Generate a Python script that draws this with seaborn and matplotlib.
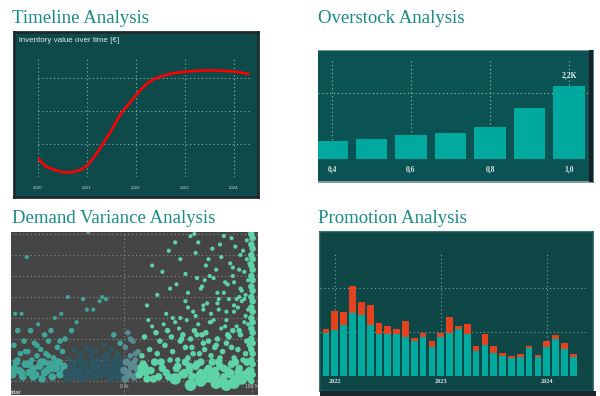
import numpy as np
import pandas as pd
import seaborn as sns
import matplotlib.pyplot as plt
from matplotlib.patches import Rectangle

# --- Timeline: inventory value over time (in units of the grid step)
tl_year = [2020.0, 2020.125, 2020.25, 2020.375, 2020.5, 2020.625, 2020.75, 2020.875,
           2021.0, 2021.125, 2021.25, 2021.375, 2021.5, 2021.625, 2021.75, 2021.875,
           2022.0, 2022.125, 2022.25, 2022.375, 2022.5, 2022.625, 2022.75, 2022.875,
           2023.0, 2023.25, 2023.5, 2023.75, 2024.0, 2024.125, 2024.25, 2024.3]
tl_value = [0.57, 0.36, 0.26, 0.20, 0.15, 0.14, 0.16, 0.22,
            0.34, 0.57, 0.82, 1.12, 1.42, 1.75, 2.03, 2.25,
            2.48, 2.69, 2.86, 2.97, 3.04, 3.10, 3.14, 3.17,
            3.19, 3.22, 3.23, 3.22, 3.20, 3.17, 3.14, 3.12]
tl_ticks = [2020, 2021, 2022, 2023, 2024]

# --- Overstock
os_ratio = [0.4, 0.5, 0.6, 0.7, 0.8, 0.9, 1.0]
os_value = [540, 600, 720, 780, 960, 1540, 2200]
os_ticks = [0.4, 0.6, 0.8, 1.0]
os_labels = ['0,4', '0,6', '0,8', '1,0']

# --- Promotion (monthly, Dec 2021 .. Apr 2024)
pr_month = pd.date_range('2021-12-01', periods=29, freq='MS').strftime('%Y-%m')
pr_base = [98, 105, 116, 143, 139, 116, 95, 95, 95, 89, 80, 89, 66, 89, 98,
           107, 95, 57, 70, 52, 45, 41, 43, 64, 43, 66, 84, 61, 43]
pr_promo = [9, 43, 30, 61, 30, 45, 25, 18, 11, 36, 7, 9, 14, 9, 36,
            7, 23, 11, 25, 16, 7, 5, 7, 5, 5, 14, 9, 14, 7]

# --- Demand variance scatter (x in %, y in grid steps)
dv_x = [-87, -86, -85, -84, -83, -82, -81, -80, -79, -78, -77, -76, -75, -74, -73, -72, -71,
        -70, -69, -68, -67, -66, -65, -64, -63, -62, -61, -60, -59, -58, -57, -56, -55, -54,
        -53, -52, -51, -50, -49, -48, -47, -46,
        -86, -83, -80, -77, -74, -71, -68, -65, -62, -59, -56, -53, -50, -47,
        -45, -44, -43, -42, -41, -40, -39, -38, -37, -36, -35, -34, -33, -32, -31, -30, -29,
        -28, -27, -26, -25, -24, -23, -22, -21, -20, -19, -18, -17, -16, -15, -14, -13, -12,
        -11, -10, -9, -8, -7, -6, -5, -4, -3, -2, -1,
        -40, -36, -32, -28, -24, -20, -16, -12, -8, -4,
        -44, -38, -34, -30, -26, -22, -18, -14, -10, -6, -2,
        0, 1, 2, 3, 4, 5, 6, 7, 8, 9, 10, 11, 1, 3, 5, 7, 9, 11,
        12, 15, 18, 21, 24, 27, 30, 33, 36, 39, 42, 45, 48, 51, 54, 57, 60, 63, 66, 69, 72,
        75, 78, 81, 84, 87, 90, 93, 96,
        14, 17, 20, 23, 26, 29, 32, 35, 38, 41, 44, 47, 50, 53, 56, 59, 62, 65, 68, 71, 74,
        77, 80, 83, 86, 89, 92, 95, 98,
        16, 22, 28, 34, 40, 46, 52, 58, 64, 70, 76, 82, 88, 94,
        19, 25, 31, 37, 43, 49, 55, 61, 67, 73, 79, 85, 91, 97,
        18, 26, 33, 41, 48, 54, 60, 65, 70, 74, 78, 82, 86, 89, 92, 95, 97, 38, 57, 68, 80, 90,
        22, 35, 48, 58, 66, 72, 78, 83, 87, 91, 94, 96, 55, 85,
        42, 45, 48, 51, 54, 57, 60, 63, 66, 69, 72, 75, 78, 81, 84, 87, 90, 93, 96, 98,
        44, 50, 56, 62, 68, 74, 80, 86, 92, 97,
        47, 53, 59, 65, 71, 77, 83, 89, 95,
        61, 67, 73, 79, 85, 91, 96,
        30, 36, 44, 50, 56, 62, 64, 69, 73, 76, 81, 84, 88, 90, 93, 95, 98,
        40, 52, 63, 75, 86, 94]
dv_y = [0.3, 1.7, 3.2, 0.9, 2.4, 0.5, 1.3, 3.2, 0.2, 1.9, 0.8, 5.9, 1.4, 0.4, 2.4, 1.0, 0.6,
        1.8, 0.3, 1.2, 2.7, 0.7, 1.5, 0.1, 0.9, 2.2, 1.3, 0.5, 1.9, 0.8, 2.4, 0.2, 1.1, 3.0,
        0.6, 1.6, 0.9, 0.3, 3.2, 1.4, 0.7, 2.0,
        0.6, 1.0, 0.4, 1.4, 0.8, 0.2, 1.7, 0.9, 0.4, 1.2, 0.6, 0.9, 1.9, 0.5,
        0.4, 4.0, 1.1, 0.2, 2.4, 0.8, 1.5, 0.3, 2.8, 1.0, 0.5, 1.3, 0.1, 3.9, 0.7, 1.6, 3.4,
        7.1, 0.4, 1.2, 0.9, 3.4, 0.2, 1.4, 0.6, 1.0, 3.8, 0.3, 4.0, 1.7, 0.8, 3.9, 0.4, 1.1,
        0.6, 1.5, 0.2, 2.2, 0.9, 0.5, 1.3, 0.3, 1.8, 0.7, 1.0,
        0.6, 0.2, 0.9, 0.4, 0.7, 0.3, 1.1, 0.5, 0.8, 0.2,
        0.1, 0.5, 0.9, 0.2, 1.5, 0.8, 0.4, 1.3, 0.1, 1.1, 0.4,
        0.5, 1.6, 0.9, 2.3, 0.3, 1.2, 0.7, 1.9, 0.2, 1.0, 0.6, 1.4, 0.1, 0.4, 2.0, 0.8, 1.3, 0.3,
        0.3, 0.8, 0.1, 0.5, 0.9, 0.2, 0.6, 0.4, 1.0, 0.1, 0.7, 0.3, 0.9, 0.5, 0.2, 0.8, 0.4,
        0.1, 0.6, 0.9, 0.3, 0.7, 0.2, 0.5, 0.8, 0.1, 0.6, 0.3, 0.9,
        1.2, 0.4, 1.5, 0.1, 1.3, 0.9, 1.7, 0.2, 1.4, 0.6, 1.9, 0.3, 1.1, 1.6, 0.7, 1.3, 1.8,
        0.5, 1.2, 1.6, 0.9, 1.4, 1.8, 0.4, 1.1, 1.5, 0.2, 1.3, 1.7,
        2.1, 2.6, 1.9, 2.4, 2.8, 2.2, 2.0, 2.7, 2.3, 2.9, 2.5, 2.1, 2.6, 2.8,
        2.9, 2.3, 2.7, 2.1, 2.5, 2.9, 2.4, 2.2, 2.8, 2.0, 2.6, 2.4, 2.2, 2.7,
        3.6, 4.1, 3.2, 4.6, 3.8, 3.3, 4.4, 3.7, 4.9, 3.4, 4.2, 3.9, 4.7, 3.5, 4.3, 3.1, 4.8,
        3.0, 4.9, 3.2, 3.3, 4.0,
        5.5, 6.2, 5.1, 6.6, 5.8, 5.3, 6.9, 5.6, 6.4, 6.0, 5.2, 6.7, 7.0, 5.0,
        1.0, 2.0, 1.6, 0.7, 1.3, 2.2, 0.9, 1.5, 1.9, 0.4, 1.7, 1.1, 0.6, 2.2, 1.6, 0.9, 2.4,
        1.0, 1.9, 0.5,
        3.0, 3.5, 3.1, 3.6, 2.8, 3.9, 2.9, 3.3, 3.8, 3.4,
        0.4, 0.2, 0.3, 0.2, 0.5, 0.1, 0.3, 0.4, 0.2,
        4.5, 5.0, 4.2, 4.7, 5.4, 4.4, 5.8,
        5.2, 4.4, 5.8, 4.2, 6.1, 3.4, 5.5, 6.3, 3.7, 5.9, 4.6, 6.8, 3.9, 5.3, 6.2, 4.1, 5.6,
        6.6, 6.9, 4.8, 6.5, 3.6, 3.9]
# dense strip at 100 %
dv_col_x = [99.5, 100.5, 99.5, 100.5, 99.5, 100.5, 99.5, 100.5, 99.5, 100.5, 99.5, 100.5,
            99.5, 100.5, 99.5, 100.5, 99.5, 100.5, 99.5, 100.5, 99.5, 100.5, 99.5, 100.5,
            99.5, 100.5, 99.5, 100.5, 99.5]
dv_col_y = [0.0, 0.3, 0.5, 0.8, 1.0, 1.3, 1.5, 1.8, 2.0, 2.3, 2.5, 2.8, 3.0, 3.3, 3.5, 3.8,
            4.0, 4.3, 4.5, 4.8, 5.0, 5.3, 5.5, 5.8, 6.0, 6.3, 6.5, 6.8, 7.0]
# large blobs near the bottom
dv_big_x = [86, 97, 80, 60, 40, 92, 72, 15, 52, 66]
dv_big_y = [-0.1, 0.3, -0.2, 0.0, 0.1, 0.1, -0.1, 0.6, -0.2, 0.2]

W, H = 600, 396
teal = '#00a99d'
title_c = '#1a8a84'

sns.set_theme(style='white')
plt.rcParams['font.family'] = ['Liberation Sans', 'DejaVu Sans']


def box(x0, y0, x1, y1):
    return [x0 / W, 1 - y1 / H, (x1 - x0) / W, (y1 - y0) / H]


def frame(fig, x0, y0, x1, y1, face, edge, lw=1.5):
    a = fig.add_axes(box(x0, y0, x1, y1), facecolor=face)
    a.set_xticks([])
    a.set_yticks([])
    for s in a.spines.values():
        s.set_color(edge)
        s.set_linewidth(lw)
    return a


def strip(fig, x0, y0, x1, y1, color):
    fig.add_artist(Rectangle((x0 / W, 1 - y1 / H), (x1 - x0) / W, (y1 - y0) / H,
                             transform=fig.transFigure, facecolor=color, edgecolor='none'))


def dotted_grid(ax, color, axis='both'):
    ax.grid(True, axis=axis, color=color, linestyle=(0, (1, 2.5)), linewidth=0.8)
    ax.set_axisbelow(True)
    sns.despine(ax=ax, left=True, bottom=True)


fig = plt.figure(figsize=(6, 3.96), dpi=100)

for x, y, t in [(12, 23, 'Timeline Analysis'), (318, 23, 'Overstock Analysis'),
                (12, 223, 'Demand Variance Analysis'), (318, 223, 'Promotion Analysis')]:
    fig.text(x / W, 1 - y / H, t, color=title_c, fontsize=13.5, va='baseline',
             family='Liberation Serif')

# ---------- Timeline
frame(fig, 14, 32, 258, 197, '#0f4a4b', '#1e2a2c', 2)
fig.text(19 / W, 1 - 41 / H, 'inventory value over time [€]', color='#e4ecec',
         fontsize=5.8, va='center')
ax1 = fig.add_axes(box(38, 58, 250, 177), facecolor='none')
sns.lineplot(x=tl_year, y=tl_value, ax=ax1, color='#ff0000', linewidth=1.9)
ax1.set_xlim(2020, 2024.33)
ax1.set_ylim(0, 119 / 33)
ax1.set_xticks(tl_ticks, [str(t) for t in tl_ticks])
ax1.set_yticks([0, 1, 2, 3], [])
ax1.tick_params(axis='x', labelsize=3.2, colors='#c8d4d4', pad=6.5, length=0)
ax1.tick_params(axis='y', length=0)
dotted_grid(ax1, '#8fb3b1')

# ---------- Overstock
frame(fig, 318, 50, 593, 182, '#0b5353', '#0b5353', 0.5)
strip(fig, 318, 49.5, 593, 50.5, '#7d9797')
strip(fig, 318, 181, 593, 183, '#8a9a9a')
strip(fig, 589, 50, 593, 182, '#172028')
ax2 = fig.add_axes(box(318, 60, 589, 159), facecolor='none')
sns.barplot(x=os_ratio, y=os_value, native_scale=True, width=0.8, color=teal,
            saturation=1, linewidth=0, ax=ax2)
ax2.bar_label(ax2.containers[0], labels=[''] * 6 + ['2,2K'], padding=5, fontsize=5.5,
              color='#e8eeee', fontweight='bold', family='Liberation Serif')
ax2.set_xlim(0.3646, 1.0506)
ax2.set_ylim(0, 99 * 1000 / 33.2)
ax2.set_xticks(os_ticks, os_labels)
ax2.set_yticks([0, 2000], [])
ax2.tick_params(axis='x', labelsize=5.5, colors='#d8e2e2', pad=4.5, length=0)
ax2.tick_params(axis='y', length=0)
for lb in ax2.get_xticklabels():
    lb.set_family('Liberation Serif')
    lb.set_fontweight('bold')
dotted_grid(ax2, '#9cbcba')

# ---------- Demand variance
ax3 = fig.add_axes(box(11, 232, 258, 395), facecolor='#454545')


def group(x, y):
    if x < -45:
        return 'teal'
    if x < 0:
        return 'dark' if y < 1.8 else 'teal'
    if x < 12:
        return 'grey' if y < 2.5 else 'mint'
    return 'mint'


def size_of(y):
    return 'a' if y < 1 else ('b' if y < 2.5 else 'c')


dv = pd.DataFrame({'x': np.array(dv_x) / 100, 'y': dv_y})
dv['g'] = [group(a, b) for a, b in zip(dv_x, dv_y)]
dv['s'] = [size_of(b) for b in dv_y]
col = pd.DataFrame({'x': np.array(dv_col_x) / 100, 'y': dv_col_y, 'g': 'mint', 's': 'e'})
big = pd.DataFrame({'x': np.array(dv_big_x) / 100, 'y': dv_big_y, 'g': 'mint', 's': 'd'})
big.loc[big['x'] < 0.12, 'g'] = 'grey'
dv = pd.concat([dv, col, big], ignore_index=True)
palette = {'teal': '#3fa79a', 'dark': '#2c5662', 'grey': '#5b8b92', 'mint': '#5ed3a7'}
sns.scatterplot(data=dv, x='x', y='y', hue='g', size='s', palette=palette,
                sizes={'a': 30, 'b': 16, 'c': 9, 'd': 70, 'e': 22},
                linewidth=0, legend=False, ax=ax3)
ax3.set_xlim(-113 / 128, 134 / 128)
ax3.set_ylim(-14 / 21, 149 / 21)
ax3.set_xticks([0, 1], ['0 %', '100 %'])
ax3.set_yticks(range(8), [])
ax3.set_xlabel('')
ax3.set_ylabel('')
ax3.tick_params(axis='x', labelsize=3.5, colors='#d0d0d0', pad=-8, length=0)
ax3.tick_params(axis='y', length=0)
dotted_grid(ax3, '#8c8c8c')
fig.text(11 / W, 1 - 392 / H, 'tdar', color='#f0f0f0', fontsize=4.5, va='center')

# ---------- Promotion
frame(fig, 320, 232, 593, 391, '#0f4747', '#1d5656', 1.2)
strip(fig, 320, 391, 596, 396, '#1a262c')
ax4 = fig.add_axes(box(320, 253, 588, 376), facecolor='none')
pr = pd.DataFrame({'month': pr_month, 'base': pr_base, 'promo': pr_promo})
pr['total'] = pr['base'] + pr['promo']
sns.barplot(data=pr, x='month', y='total', color='#e3421d', saturation=1, width=0.76,
            linewidth=0, ax=ax4)
sns.barplot(data=pr, x='month', y='base', color=teal, saturation=1, width=0.76,
            linewidth=0, ax=ax4)
ax4.set_xlim(-0.68, 29.67)
ax4.set_ylim(0, 123 / 44 * 100)
ax4.set_xticks([1, 13, 25], ['2022', '2023', '2024'])
ax4.set_yticks([0, 100, 200], [])
ax4.set_xlabel('')
ax4.set_ylabel('')
ax4.tick_params(axis='x', labelsize=4.5, colors='#d8e2e2', pad=2.5, length=0)
ax4.tick_params(axis='y', length=0)
for lb in ax4.get_xticklabels():
    lb.set_family('Liberation Serif')
    lb.set_fontweight('bold')
dotted_grid(ax4, '#7fa3a1')

fig.savefig('out.png', dpi=100, facecolor='white')
